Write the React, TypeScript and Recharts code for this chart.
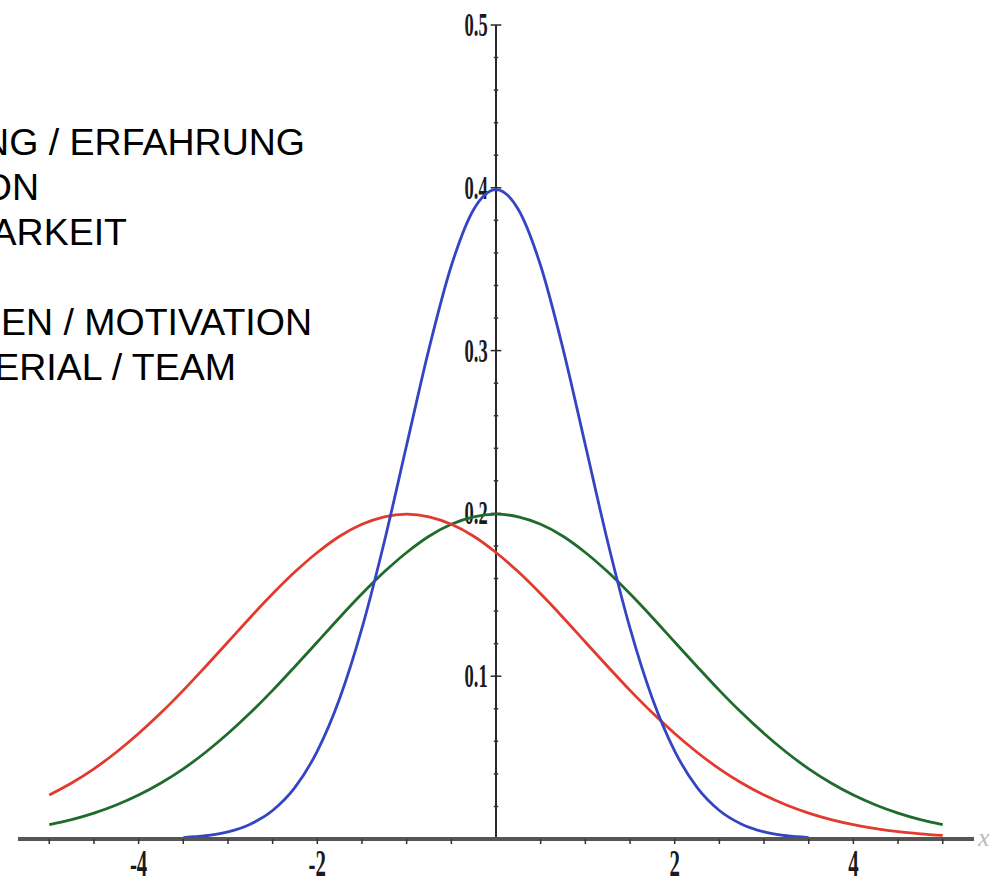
import React from "react";
import { LineChart, Line, XAxis, YAxis, ReferenceLine } from "recharts";

// x positions of the sampled points
const xs = [
  -5, -4.75, -4.5, -4.25, -4, -3.75, -3.5, -3.25, -3, -2.75, -2.5, -2.25, -2, -1.75, -1.5, -1.25, -1, -0.75, -0.5, -0.25,
  0, 0.25, 0.5, 0.75, 1, 1.25, 1.5, 1.75, 2, 2.25, 2.5, 2.75, 3, 3.25, 3.5, 3.75, 4, 4.25, 4.5, 4.75, 5,
];

// narrow curve (blue)
const blue = [
  null, null, null, null, null, null, 0.0009, 0.002, 0.0044, 0.0091, 0.0175, 0.0317, 0.054, 0.0863, 0.1295, 0.1826, 0.242, 0.3011, 0.3521, 0.3867,
  0.3989, 0.3867, 0.3521, 0.3011, 0.242, 0.1826, 0.1295, 0.0863, 0.054, 0.0317, 0.0175, 0.0091, 0.0044, 0.002, 0.0009, null, null, null, null, null, null,
];

// wide curve centred at 0 (green)
const green = [
  0.0088, 0.0119, 0.0159, 0.0209, 0.027, 0.0344, 0.0431, 0.0533, 0.0648, 0.0775, 0.0913, 0.106, 0.121, 0.1361, 0.1506, 0.1641, 0.176, 0.186, 0.1933, 0.1979,
  0.1995, 0.1979, 0.1933, 0.186, 0.176, 0.1641, 0.1506, 0.1361, 0.121, 0.106, 0.0913, 0.0775, 0.0648, 0.0533, 0.0431, 0.0344, 0.027, 0.0209, 0.0159, 0.0119, 0.0088,
];

// wide curve shifted left (red)
const red = [
  0.027, 0.0344, 0.0431, 0.0533, 0.0648, 0.0775, 0.0913, 0.106, 0.121, 0.1361, 0.1506, 0.1641, 0.176, 0.186, 0.1933, 0.1979, 0.1995, 0.1979, 0.1933, 0.186,
  0.176, 0.1641, 0.1506, 0.1361, 0.121, 0.106, 0.0913, 0.0775, 0.0648, 0.0533, 0.0431, 0.0344, 0.027, 0.0209, 0.0159, 0.0119, 0.0088, 0.0064, 0.0045, 0.0032, 0.0022,
];

const xTicks = [-5, -4.5, -4, -3.5, -3, -2.5, -2, -1.5, -1, -0.5, 0.5, 1, 1.5, 2, 2.5, 3, 3.5, 4, 4.5, 5];
const xLabels = [-4, -2, 2, 4];
const yMajor = [0.1, 0.2, 0.3, 0.4, 0.5];
const yMinor = [0.02, 0.04, 0.06, 0.08, 0.12, 0.14, 0.16, 0.18, 0.22, 0.24, 0.26, 0.28, 0.32, 0.34, 0.36, 0.38, 0.42, 0.44, 0.46, 0.48];

// cut-off legend text at the left edge
const notes = [
  { text: "NG / ERFAHRUNG", right: 305, base: 155 },
  { text: "ON", right: 39, base: 200 },
  { text: "ARKEIT", right: 127, base: 245 },
  { text: "EN / MOTIVATION", right: 312, base: 335 },
  { text: "ERIAL / TEAM", right: 236, base: 380 },
];

const data = xs.map((x, i) => ({ x, blue: blue[i], green: green[i], red: red[i] }));

const XTick = ({ x, y, payload }: any) => {
  if (!xLabels.includes(payload.value)) return null;
  return (
    <text
      transform={`translate(${x},${y + 30}) scale(0.55,1)`}
      textAnchor="middle"
      fontFamily="Liberation Serif"
      fontWeight="bold"
      fontSize={38}
      fill="#1a1a1a"
    >
      {String(payload.value)}
    </text>
  );
};

const yLabel = (text: string) => (props: any) => {
  const vb = props.viewBox || {};
  return (
    <text
      transform={`translate(${vb.x - 3},${vb.y + 11}) scale(0.56,1)`}
      textAnchor="end"
      fontFamily="Liberation Serif"
      fontWeight="bold"
      fontSize={33}
      fill="#1a1a1a"
    >
      {text}
    </text>
  );
};

export default function App() {
  return (
    <div style={{ position: "absolute", left: 0, top: 0, width: 992, height: 885, background: "#fff", overflow: "hidden" }}>
      <LineChart width={992} height={885} data={data} margin={{ top: 25, right: 18, bottom: 16, left: 18 }}>
        <XAxis
          dataKey="x"
          type="number"
          domain={[-5.35, 5.35]}
          ticks={xTicks}
          interval={0}
          height={30}
          axisLine={{ stroke: "#555", strokeWidth: 4 }}
          tickLine={{ stroke: "#333", strokeWidth: 1.5 }}
          tickSize={5}
          tick={<XTick />}
          allowDataOverflow
        />
        <YAxis hide width={0} type="number" domain={[0, 0.5]} allowDataOverflow />
        <ReferenceLine segment={[{ x: 0, y: 0 }, { x: 0, y: 0.5 }]} stroke="#2a2a2a" strokeWidth={2} ifOverflow="visible" />
        {yMinor.map((v) => (
          <ReferenceLine key={`m${v}`} segment={[{ x: -0.025, y: v }, { x: 0.025, y: v }]} stroke="#333" strokeWidth={1.5} />
        ))}
        {yMajor.map((v) => (
          <ReferenceLine
            key={`M${v}`}
            segment={[{ x: -0.06, y: v }, { x: 0.06, y: v }]}
            stroke="#2a2a2a"
            strokeWidth={1.5}
            label={yLabel(String(v))}
          />
        ))}
        <Line type="monotone" dataKey="green" stroke="#1f6b2c" strokeWidth={2.8} dot={false} isAnimationActive={false} />
        <Line type="monotone" dataKey="red" stroke="#e23a2e" strokeWidth={2.8} dot={false} isAnimationActive={false} />
        <Line type="monotone" dataKey="blue" stroke="#3445c4" strokeWidth={2.8} dot={false} isAnimationActive={false} connectNulls={false} />
      </LineChart>
      <svg width={992} height={885} style={{ position: "absolute", left: 0, top: 0, pointerEvents: "none" }}>
        {notes.map((n) => (
          <text key={n.text} x={n.right} y={n.base} textAnchor="end" fontFamily="Liberation Sans, Arial, sans-serif" fontSize={37.5} fill="#000">
            {n.text}
          </text>
        ))}
        <text x={978} y={846} fontFamily="Liberation Serif" fontStyle="italic" fontSize={26} fill="#bbb">
          x
        </text>
      </svg>
    </div>
  );
}
